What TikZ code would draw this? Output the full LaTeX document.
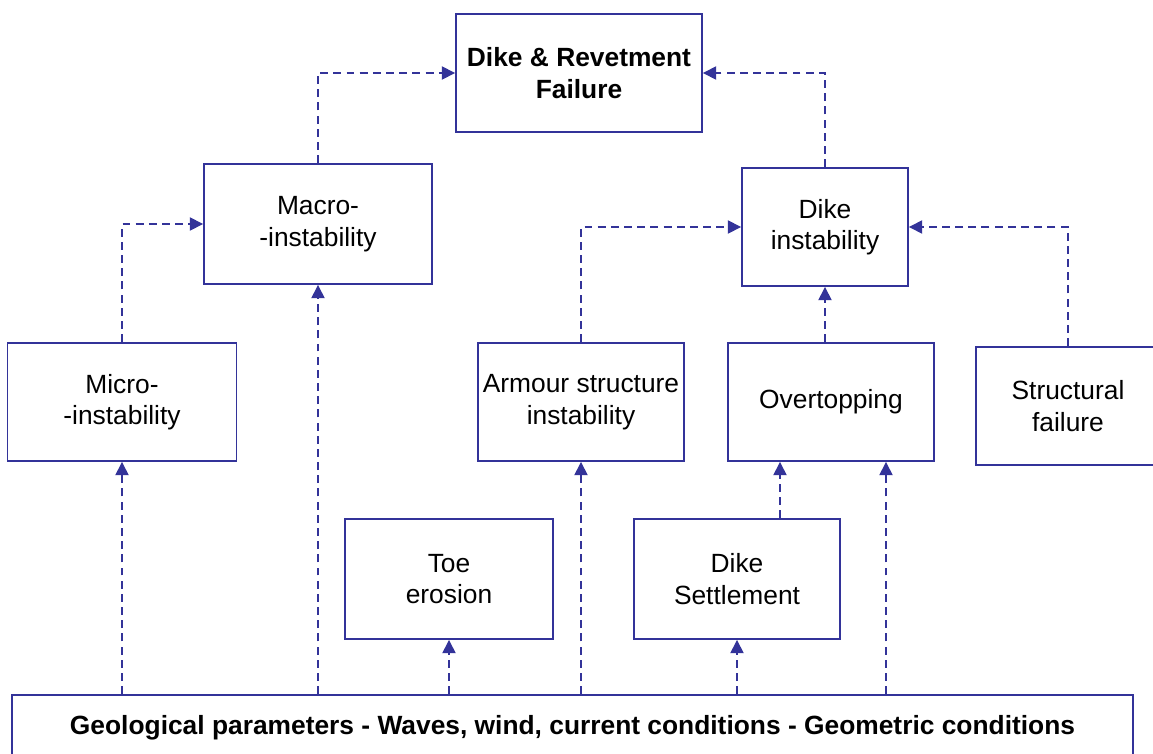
\documentclass[tikz,border=0pt]{standalone}
\usepackage{fontspec}
\setmainfont{Liberation Sans}
\usetikzlibrary{arrows.meta, positioning}
\definecolor{boxblue}{HTML}{333399}
\tikzset{
  >={Triangle[length=7.5pt, width=7.5pt]},
  block/.style={draw=boxblue, line width=1.1pt, align=center, inner sep=2pt,
    font=\fontsize{15}{18}\selectfont},
  link/.style={->, boxblue, line width=0.85pt, dash pattern=on 4.5pt off 3pt},
}
\begin{document}
\begin{tikzpicture}[x=0.02cm, y=-0.02cm]
  \clip (0,0) rectangle (1153,754);
  % top level
  \node[block, minimum width=4.92cm, minimum height=2.36cm, font=\fontsize{15}{18}\selectfont\bfseries] (failure) at (579,73) {Dike \& Revetment\\Failure};
  % second level
  \node[block, minimum width=4.56cm, minimum height=2.4cm] (macro) at (318,224) {Macro-\\-instability};
  \node[block, minimum width=3.32cm, minimum height=2.36cm] (dikeinst) at (825,227) {Dike\\instability};
  % third level
  \node[block, minimum width=4.58cm, minimum height=2.36cm] (micro) at (122,402) {Micro-\\-instability};
  \node[block, minimum width=4.12cm, minimum height=2.36cm] (armour) at (581,402) {Armour structure\\instability};
  \node[block, minimum width=4.12cm, minimum height=2.36cm] (overtop) at (831,402) {Overtopping};
  \node[block, minimum width=3.68cm, minimum height=2.36cm] (structural) at (1068,406) {Structural\\failure};
  % fourth level
  \node[block, minimum width=4.16cm, minimum height=2.4cm] (toe) at (449,579) {Toe\\erosion};
  \node[block, minimum width=4.12cm, minimum height=2.4cm] (settle) at (737,579) {Dike\\Settlement};
  % conditions
  \node[block, minimum width=22.42cm, minimum height=1.32cm, font=\fontsize{15}{18}\selectfont\bfseries] (cond) at (572.5,728) {Geological parameters - Waves, wind, current conditions - Geometric conditions};
  % offset ends on the overtopping box
  \coordinate (overR) at ([xshift=1.1cm]overtop.south);
  \coordinate (settleR) at ([xshift=0.86cm]settle.north);
  % elbow links
  \draw[link] (macro.north) |- (failure.west);
  \draw[link] (dikeinst.north) |- (failure.east);
  \draw[link] (micro.north) |- (macro.west);
  \draw[link] (armour.north) |- (dikeinst.west);
  \draw[link] (structural.north) |- (dikeinst.east);
  \draw[link] (dikeinst.south |- overtop.north) -- (dikeinst.south);
  % links from the conditions
  \draw[link] (cond.north -| micro.south) -- (micro.south);
  \draw[link] (cond.north -| macro.south) -- (macro.south);
  \draw[link] (cond.north -| toe.south) -- (toe.south);
  \draw[link] (cond.north -| armour.south) -- (armour.south);
  \draw[link] (cond.north -| settle.south) -- (settle.south);
  \draw[link] (cond.north -| overR) -- (overR);
  \draw[link] (settleR) -- (settleR |- overtop.south);
\end{tikzpicture}
\end{document}
